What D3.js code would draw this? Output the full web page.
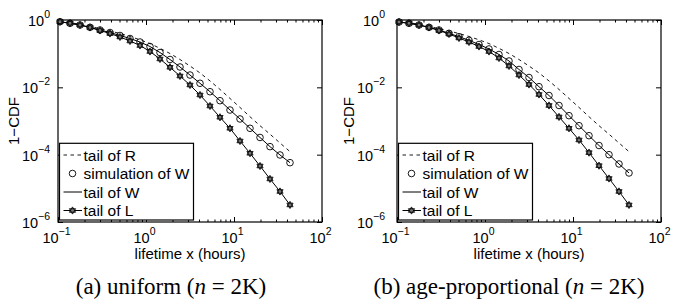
<!DOCTYPE html>
<html>
<head>
<meta charset="utf-8">
<script src="https://cdn.jsdelivr.net/npm/d3@7"></script>
<style>
  body { margin: 0; background: #fff; }
  svg { display: block; }
</style>
</head>
<body>
<svg id="chart" width="673" height="304"></svg>
<script>
// lifetime grid (hours) shared by all curves
const xVals = [0.1054, 0.1369, 0.1778, 0.2310, 0.3001, 0.3898, 0.5064, 0.6579, 0.8546, 1.110, 1.442, 1.874,
               2.434, 3.162, 4.108, 5.337, 6.933, 9.006, 11.70, 15.20, 19.75, 25.65, 33.32, 43.29];

// tail of R (same in both panels)
const rTail = [0.915, 0.831, 0.745, 0.650, 0.552, 0.471, 0.397, 0.324, 0.258, 0.200, 0.144, 0.101,
               0.0671, 0.0430, 0.0268, 0.0155, 0.00866, 0.00468, 0.00253, 0.00134, 0.000726, 0.000406, 0.000222, 0.000123];

// (a) uniform
const wSimUniform = [0.890, 0.798, 0.710, 0.607, 0.505, 0.425, 0.347, 0.282, 0.222, 0.163, 0.108, 0.0671,
                     0.0402, 0.0232, 0.0132, 0.00741, 0.00401, 0.00212, 0.00115, 0.000607, 0.000324, 0.000173, 0.0000979, 0.0000578];
const wTailUniform = [0.890, 0.798, 0.710, 0.607, 0.505, 0.425, 0.347, 0.282, 0.222, 0.163, 0.108, 0.0671,
                      0.0402, 0.0232, 0.0132, 0.00741, 0.00401, 0.00212, 0.00115, 0.000607, 0.000324, 0.000173, 0.0000979, 0.0000578];
const lTailUniform = [0.890, 0.798, 0.710, 0.599, 0.488, 0.397, 0.313, 0.238, 0.175, 0.116, 0.0695, 0.0394,
                      0.0217, 0.01173, 0.00592, 0.00279, 0.00129, 0.000607, 0.000255, 0.000110, 0.0000461, 0.0000190, 0.00000807, 0.00000321];

// (b) age-proportional
const wSimAge = [0.872, 0.798, 0.710, 0.607, 0.505, 0.403, 0.319, 0.249, 0.187, 0.138, 0.0945, 0.0606,
                 0.0339, 0.0196, 0.01045, 0.00572, 0.00289, 0.00144, 0.000726, 0.000366, 0.000187, 0.0000999, 0.0000529, 0.0000286];
const wTailAge = [0.872, 0.798, 0.710, 0.607, 0.505, 0.403, 0.319, 0.249, 0.187, 0.138, 0.0945, 0.0606,
                  0.0339, 0.0196, 0.01045, 0.00572, 0.00289, 0.00144, 0.000726, 0.000366, 0.000187, 0.0000999, 0.0000529, 0.0000286];
const lTailAge = [0.872, 0.798, 0.710, 0.599, 0.488, 0.384, 0.292, 0.222, 0.163, 0.116, 0.0743, 0.0430,
                  0.0232, 0.01214, 0.00613, 0.00289, 0.00132, 0.000607, 0.000273, 0.000115, 0.0000471, 0.0000196, 0.00000807, 0.00000321];

const xMajor = [0.1, 1, 10, 100];
const yMajor = [1e-6, 1e-4, 1e-2, 1];
const legendLabels = ["tail of R", "simulation of W", "tail of W", "tail of L"];
const xLabel = "lifetime x (hours)";
const yLabel = "1\u2212CDF";

const panels = [
  { x0: 58, x1: 322, gap: 8, yLabX: 14, capX: 171, capA: "(a) uniform (", wSim: wSimUniform, wTail: wTailUniform, lTail: lTailUniform },
  { x0: 397, x1: 661, gap: 12, yLabX: 349, capX: 509, capA: "(b) age-proportional (", wSim: wSimAge, wTail: wTailAge, lTail: lTailAge }
];

const plotTop = 20, plotBottom = 222;
const font = "Liberation Sans, Arial, sans-serif";
const svg = d3.select("#chart");

function hexagram(r) {
  function tri(a0) {
    return [0, 120, 240].map(function(a) {
      const t = (a0 + a) * Math.PI / 180;
      return [r * Math.cos(t), r * Math.sin(t)];
    });
  }
  const p = function(pts) { return "M" + pts.map(function(q) { return q[0].toFixed(2) + "," + q[1].toFixed(2); }).join("L") + "Z"; };
  return p(tri(-90)) + p(tri(90));
}

function expo(v) {
  const e = Math.round(Math.log10(v));
  return e < 0 ? "\u2212" + (-e) : "" + e;
}

function powerLabels(sel, xAttr, yAttr, anchor) {
  sel.selectAll(".tick text").each(function(d) {
    const t = d3.select(this);
    t.text(null).attr("x", xAttr).attr("y", yAttr).attr("dy", null)
      .attr("text-anchor", anchor).attr("fill", "#000");
    t.append("tspan").text("10");
    t.append("tspan").attr("dy", -8).attr("font-size", 10.5).text(expo(d));
  });
}

panels.forEach(function(p) {
  const x = d3.scaleLog().domain([0.1, 100]).range([p.x0, p.x1]);
  const y = d3.scaleLog().domain([1e-6, 1]).range([plotBottom, plotTop]);
  const xMinor = x.ticks().filter(function(v) { return xMajor.indexOf(v) < 0; });
  const g = svg.append("g");

  // bottom axis with labels
  const bx = g.append("g").attr("transform", "translate(0," + plotBottom + ")")
    .call(d3.axisBottom(x).tickValues(xMajor).tickSize(-5).tickFormat(function(d) { return d; }))
    .attr("font-family", font).attr("font-size", 14.5);
  bx.select(".domain").remove();
  powerLabels(bx, -2, 20.5, "middle");
  g.append("g").attr("transform", "translate(0," + plotBottom + ")")
    .call(d3.axisBottom(x).tickValues(xMinor).tickSize(-2.5).tickFormat(""))
    .select(".domain").remove();

  // top axis ticks only
  g.append("g").attr("transform", "translate(0," + plotTop + ")")
    .call(d3.axisTop(x).tickValues(xMajor).tickSize(-5).tickFormat(""))
    .select(".domain").remove();
  g.append("g").attr("transform", "translate(0," + plotTop + ")")
    .call(d3.axisTop(x).tickValues(xMinor).tickSize(-2.5).tickFormat(""))
    .select(".domain").remove();

  // left axis with labels
  const ly = g.append("g").attr("transform", "translate(" + p.x0 + ",0)")
    .call(d3.axisLeft(y).tickValues(yMajor).tickSize(-5).tickFormat(function(d) { return d; }))
    .attr("font-family", font).attr("font-size", 14.5);
  ly.select(".domain").remove();
  powerLabels(ly, -p.gap, 5.5, "end");

  // right axis ticks only
  g.append("g").attr("transform", "translate(" + p.x1 + ",0)")
    .call(d3.axisRight(y).tickValues(yMajor).tickSize(-5).tickFormat(""))
    .select(".domain").remove();

  g.selectAll(".tick line").attr("stroke", "#000");

  // frame
  g.append("rect").attr("x", p.x0).attr("y", plotTop).attr("width", p.x1 - p.x0).attr("height", plotBottom - plotTop)
    .attr("fill", "none").attr("stroke", "#000").attr("stroke-width", 1.2);

  const line = function(vals) {
    return d3.line().x(function(d, i) { return x(xVals[i]); }).y(function(d) { return y(d); })(vals);
  };

  // tail of R
  g.append("path").attr("d", line(rTail)).attr("fill", "none").attr("stroke", "#000")
    .attr("stroke-width", 0.9).attr("stroke-dasharray", "3.5,3.5");
  // tail of W
  g.append("path").attr("d", line(p.wTail)).attr("fill", "none").attr("stroke", "#000").attr("stroke-width", 1);
  // tail of L
  g.append("path").attr("d", line(p.lTail)).attr("fill", "none").attr("stroke", "#000").attr("stroke-width", 1);

  // simulation of W
  g.append("g").selectAll("circle").data(p.wSim).enter().append("circle")
    .attr("cx", function(d, i) { return x(xVals[i]); })
    .attr("cy", function(d) { return y(d); })
    .attr("r", 3.3).attr("fill", "none").attr("stroke", "#000").attr("stroke-width", 0.9);

  g.append("g").selectAll("path").data(p.lTail).enter().append("path")
    .attr("transform", function(d, i) { return "translate(" + x(xVals[i]) + "," + y(d) + ")"; })
    .attr("d", hexagram(3.6)).attr("fill", "#777").attr("stroke", "#000").attr("stroke-width", 0.8);

  // axis titles
  g.append("text").attr("x", (p.x0 + p.x1) / 2).attr("y", 259).attr("text-anchor", "middle")
    .attr("font-family", font).attr("font-size", 15).text(xLabel);
  g.append("text").attr("transform", "translate(" + (p.yLabX + 5) + "," + ((plotTop + plotBottom) / 2) + ") rotate(-90)")
    .attr("text-anchor", "middle").attr("font-family", font).attr("font-size", 15).text(yLabel);

  // legend
  const lx = p.x0 + 1.5, lyTop = 143.3;
  const lg = g.append("g").attr("transform", "translate(" + lx + "," + lyTop + ")");
  lg.append("rect").attr("width", 134).attr("height", 76.7).attr("fill", "#fff")
    .attr("stroke", "#000").attr("stroke-width", 1.2);
  legendLabels.forEach(function(lab, i) {
    const cy = 11.7 + i * 18.5;
    const row = lg.append("g").attr("transform", "translate(0," + cy + ")");
    if (i === 0) {
      row.append("line").attr("x1", 4).attr("x2", 22.5).attr("stroke", "#000").attr("stroke-width", 0.9)
        .attr("stroke-dasharray", "3.5,3.5");
    } else if (i === 1) {
      row.append("circle").attr("cx", 13).attr("r", 3.3).attr("fill", "none").attr("stroke", "#000").attr("stroke-width", 0.9);
    } else {
      row.append("line").attr("x1", 4).attr("x2", 22.5).attr("stroke", "#000").attr("stroke-width", 1);
      if (i === 3) {
        row.append("path").attr("transform", "translate(13,0)").attr("d", hexagram(3.6))
          .attr("fill", "#777").attr("stroke", "#000").attr("stroke-width", 0.8);
      }
    }
    row.append("text").attr("x", 24).attr("y", 5.5).attr("font-family", font).attr("font-size", 15.5).text(lab);
  });

  // caption
  const cap = g.append("text").attr("x", p.capX).attr("y", 294).attr("text-anchor", "middle")
    .attr("font-family", "Liberation Serif, Times New Roman, serif").attr("font-size", 23);
  cap.append("tspan").text(p.capA);
  cap.append("tspan").attr("font-style", "italic").text("n");
  cap.append("tspan").text(" = 2K)");
});
</script>
</body>
</html>
